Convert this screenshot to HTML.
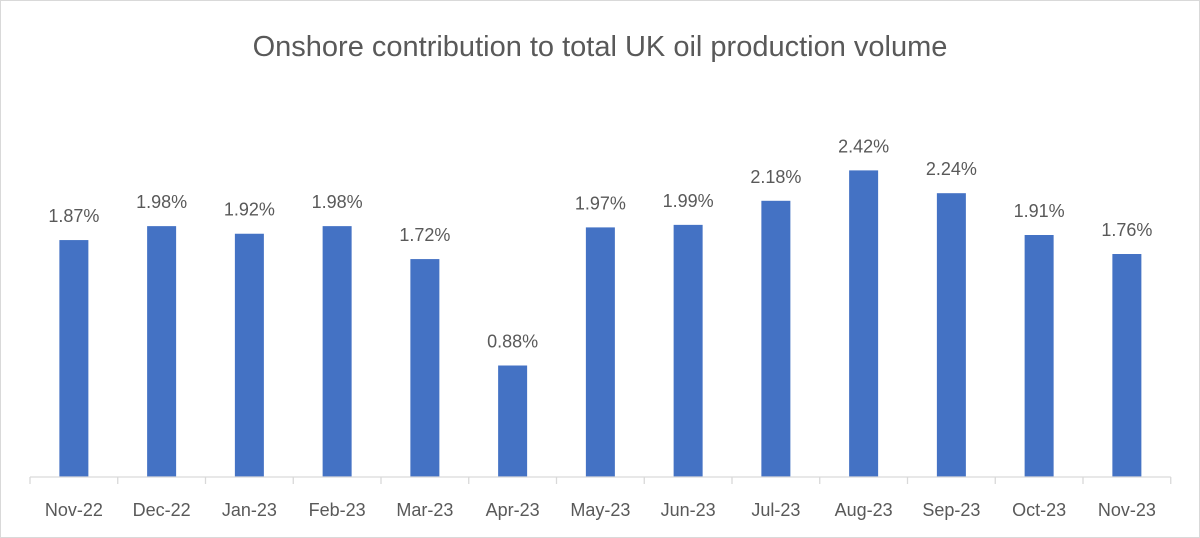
<!DOCTYPE html>
<html><head><style>
body{margin:0;background:#fff}
svg{display:block}
text{font-family:"Liberation Sans",sans-serif;fill:#595959}
</style></head><body>
<svg width="1200" height="538" viewBox="0 0 1200 538">
<rect x="0.5" y="0.5" width="1199" height="537" fill="#fff" stroke="#d9d9d9"/>
<text x="600" y="56" font-size="29" text-anchor="middle">Onshore contribution to total UK oil production volume</text>
<g id="bars"></g>
</svg>
<script>
var v=[1.87,1.98,1.92,1.98,1.72,0.88,1.97,1.99,2.18,2.42,2.24,1.91,1.76];
var l=["Nov-22","Dec-22","Jan-23","Feb-23","Mar-23","Apr-23","May-23","Jun-23","Jul-23","Aug-23","Sep-23","Oct-23","Nov-23"];
var g=document.getElementById('bars'),s='',x0=30,w=87.75,b=477,k=126.7;
for(var i=0;i<13;i++){var c=x0+w*(i+0.5),h=v[i]*k;
s+='<rect x="'+(c-14.5)+'" y="'+(b-h)+'" width="29" height="'+h+'" fill="#4472c4"/>';
s+='<text x="'+c+'" y="'+(b-h-18)+'" font-size="18" text-anchor="middle">'+v[i].toFixed(2)+'%</text>';
s+='<text x="'+c+'" y="516" font-size="18" text-anchor="middle">'+l[i]+'</text>';}
s+='<line x1="'+x0+'" y1="'+b+'" x2="'+(x0+13*w)+'" y2="'+b+'" stroke="#d9d9d9" stroke-width="1.3"/>';
for(var i=0;i<=13;i++){var x=x0+i*w;s+='<line x1="'+x+'" y1="'+b+'" x2="'+x+'" y2="'+(b+7)+'" stroke="#d9d9d9" stroke-width="1.3"/>';}
g.innerHTML=s;
</script>
</body></html>
